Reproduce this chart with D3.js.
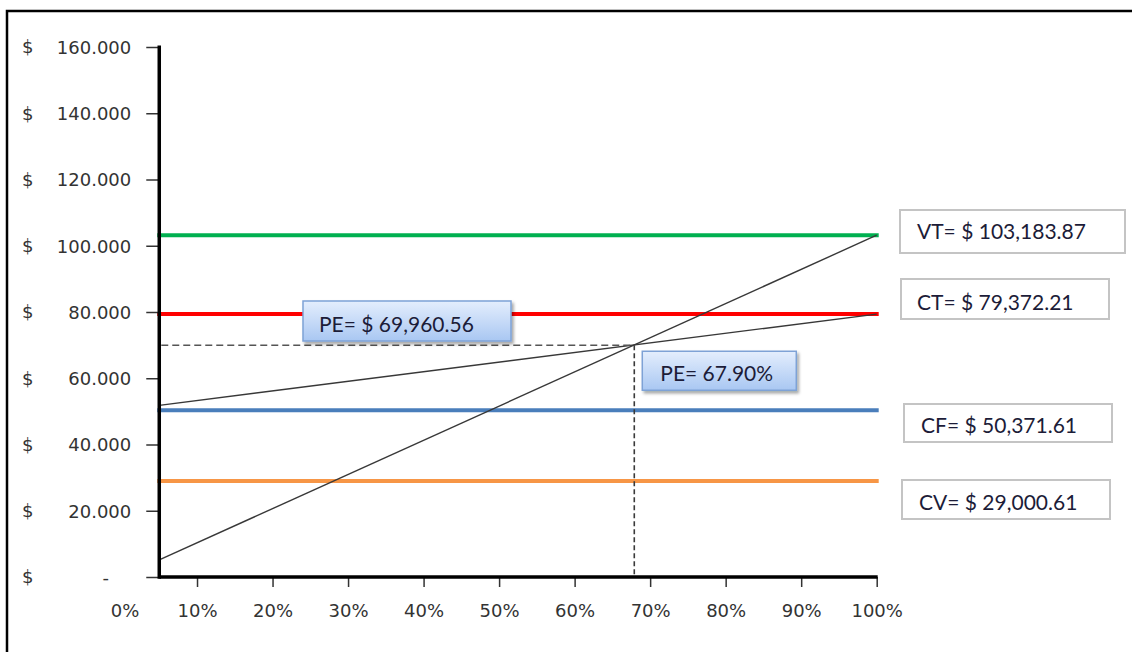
<!DOCTYPE html>
<html>
<head>
<meta charset="utf-8">
<script src="https://cdn.jsdelivr.net/npm/d3@7"></script>
<style>
  html, body { margin: 0; padding: 0; background: #fff; }
  svg { display: block; }
</style>
</head>
<body>
<script>
// Break-even chart data (sales volume as a share of capacity)
const pctTicks  = [0, 0.1, 0.2, 0.3, 0.4, 0.5, 0.6, 0.7, 0.8, 0.9, 1.0];
const pctLabels = ["0%", "10%", "20%", "30%", "40%", "50%", "60%", "70%", "80%", "90%", "100%"];
const moneyTicks  = [0, 20000, 40000, 60000, 80000, 100000, 120000, 140000, 160000];
const moneyLabels = ["-", "20.000", "40.000", "60.000", "80.000", "100.000", "120.000", "140.000", "160.000"];

// Totals at 100% of sales
const seriesNames  = ["VT", "CT", "CF", "CV"];
const seriesValues = [103183.87, 79372.21, 50371.61, 29000.61];
const seriesColors = ["#00b050", "#ff0000", "#4a7ebb", "#f79646"];

// Break-even point
const breakEvenPct   = 0.679;
const breakEvenValue = 69960.56;

// Visible range of the volume axis
const volumeRange = [0.05, 1.0];

const W = 1132, H = 652;
const svg = d3.select("body").append("svg").attr("width", W).attr("height", H);

const x = d3.scaleLinear().domain([0, 1]).range([121.5, 876.7]);
const y = d3.scaleLinear().domain([0, 160000]).range([577, 47]);

const defs = svg.append("defs");
const grad = defs.append("linearGradient").attr("id", "peFill")
  .attr("x1", 0).attr("y1", 0).attr("x2", 0).attr("y2", 1);
grad.append("stop").attr("offset", "0%").attr("stop-color", "#e4eefd");
grad.append("stop").attr("offset", "100%").attr("stop-color", "#a9c7f2");
const shadow = defs.append("filter").attr("id", "peShadow")
  .attr("x", "-10%").attr("y", "-20%").attr("width", "130%").attr("height", "160%");
shadow.append("feDropShadow").attr("dx", 2).attr("dy", 2.5).attr("stdDeviation", 1.6)
  .attr("flood-color", "#000").attr("flood-opacity", 0.35);

// Frame
svg.append("path").attr("d", `M7,${H} V11 H${W}`)
  .attr("fill", "none").attr("stroke", "#000").attr("stroke-width", 2.5);

const fmt = d3.format(",.2f");
const byName = Object.fromEntries(seriesNames.map((n, i) => [n, seriesValues[i]]));
const VT = byName.VT, CF = byName.CF, CV = byName.CV;

// Horizontal level lines
const levels = svg.append("g");
seriesNames.forEach((n, i) => {
  levels.append("line")
    .attr("x1", x(volumeRange[0])).attr("x2", x(volumeRange[1]))
    .attr("y1", y(seriesValues[i])).attr("y2", y(seriesValues[i]))
    .attr("stroke", seriesColors[i]).attr("stroke-width", 4)
    .attr("stroke-linecap", "square");
});

// Revenue (VT * q) and total cost (CF + CV * q)
const line = d3.line().x(d => x(d[0])).y(d => y(d[1]));
const revenue = volumeRange.map(q => [q, VT * q]);
const cost    = volumeRange.map(q => [q, CF + CV * q]);
[revenue, cost].forEach(pts => {
  svg.append("path").attr("d", line(pts))
    .attr("fill", "none").attr("stroke", "#383838").attr("stroke-width", 1.4);
});

// Break-even guides
const bx = x(breakEvenPct), by = y(breakEvenValue);
svg.append("line")
  .attr("x1", x(volumeRange[0]) + 2).attr("x2", bx)
  .attr("y1", by).attr("y2", by)
  .attr("stroke", "#555").attr("stroke-width", 1.6).attr("stroke-dasharray", "7,4");
svg.append("line")
  .attr("x1", bx).attr("x2", bx)
  .attr("y1", by).attr("y2", y(0))
  .attr("stroke", "#3a3a3a").attr("stroke-width", 1.6).attr("stroke-dasharray", "5,3");

// Axes
const xAxis = svg.append("g").attr("transform", `translate(0,${y(0)})`)
  .call(d3.axisBottom(x).tickValues(pctTicks).tickFormat((d, i) => pctLabels[i])
    .tickSize(10).tickPadding(17));
xAxis.select(".domain").remove();
xAxis.selectAll(".tick line").attr("stroke", "#333").attr("stroke-width", 1.5)
  .filter(d => d < volumeRange[0]).remove();
xAxis.selectAll(".tick text")
  .attr("font-family", "DejaVu Sans").attr("font-size", 18).attr("fill", "#333");
xAxis.selectAll(".tick text").filter(d => d === 0).attr("dx", 3);

const y0x = x(volumeRange[0]);
const yAxis = svg.append("g").attr("transform", `translate(${y0x},0)`)
  .call(d3.axisLeft(y).tickValues(moneyTicks).tickFormat((d, i) => moneyLabels[i])
    .tickSize(13).tickPadding(15));
yAxis.select(".domain").remove();
yAxis.selectAll(".tick line").attr("stroke", "#333").attr("stroke-width", 1.5);
yAxis.selectAll(".tick text")
  .attr("font-family", "DejaVu Sans").attr("font-size", 18).attr("fill", "#333")
  .attr("dy", "0.36em");
yAxis.selectAll(".tick text").filter(d => d === 0).attr("x", -(y0x - 109));

// Currency symbols
svg.append("g").selectAll("text").data(moneyTicks).join("text")
  .attr("x", 22).attr("y", d => y(d)).attr("dy", "0.36em")
  .attr("font-family", "DejaVu Sans").attr("font-size", 18).attr("fill", "#333")
  .text("$");

// Axis lines
svg.append("line").attr("x1", y0x).attr("x2", y0x)
  .attr("y1", y(160000) - 1.5).attr("y2", y(0) + 1.75)
  .attr("stroke", "#000").attr("stroke-width", 3.5);
svg.append("line").attr("x1", y0x).attr("x2", x(1) + 1)
  .attr("y1", y(0)).attr("y2", y(0))
  .attr("stroke", "#000").attr("stroke-width", 3.5);

// Value boxes on the right
const boxFont = "Lato, 'Open Sans', sans-serif";
const valueBoxes = [
  { name: "VT", x0: 900, y0: 210, w: 225, h: 43, tx: 917, ty: 239 },
  { name: "CT", x0: 901, y0: 279, w: 208, h: 40, tx: 917, ty: 310 },
  { name: "CF", x0: 904, y0: 404, w: 208, h: 38, tx: 921, ty: 433 },
  { name: "CV", x0: 902, y0: 480, w: 208, h: 39, tx: 919, ty: 510 }
];
const vb = svg.append("g");
valueBoxes.forEach(b => {
  vb.append("rect").attr("x", b.x0).attr("y", b.y0).attr("width", b.w).attr("height", b.h)
    .attr("fill", "#fff").attr("stroke", "#c4c4c4").attr("stroke-width", 2);
  vb.append("text").attr("x", b.tx).attr("y", b.ty)
    .attr("font-family", boxFont).attr("font-size", 21).attr("fill", "#1c1c38")
    .text(`${b.name}= $ ${fmt(byName[b.name])}`);
});

// Break-even callouts
function callout(x0, y0, w, h, label, tx, ty) {
  const g = svg.append("g");
  g.append("rect").attr("x", x0).attr("y", y0).attr("width", w).attr("height", h)
    .attr("fill", "url(#peFill)").attr("stroke", "#7ea2d6").attr("stroke-width", 1.5)
    .attr("filter", "url(#peShadow)");
  g.append("text").attr("x", tx).attr("y", ty)
    .attr("font-family", boxFont).attr("font-size", 21).attr("fill", "#1c1c38")
    .text(label);
}
callout(303, 301, 208, 40, `PE= $ ${fmt(breakEvenValue)}`, 319, 332);
callout(bx + 8, by + 6, 154, 39, `PE= ${(breakEvenPct * 100).toFixed(2)}%`, bx + 26, by + 36);
</script>
</body>
</html>
